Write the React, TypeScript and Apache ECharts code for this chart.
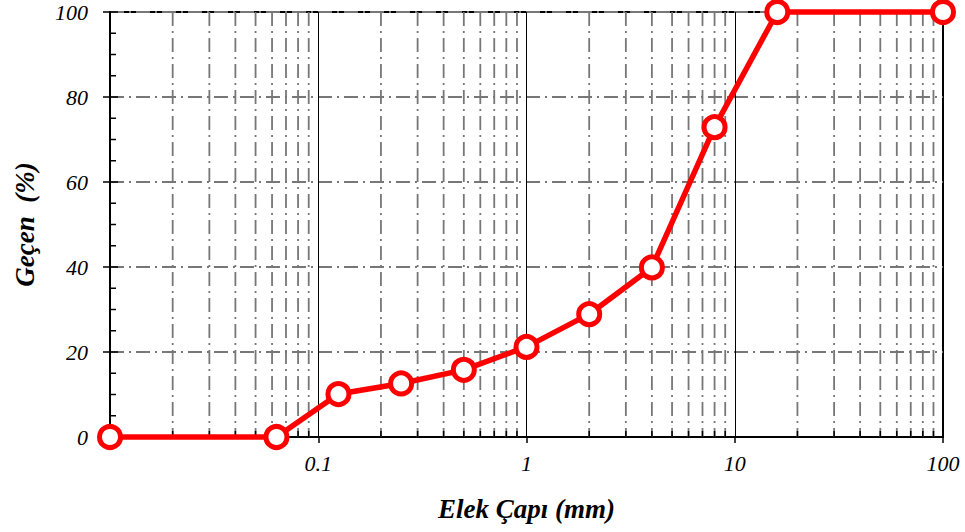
import React, { useEffect, useRef } from "react";
import * as echarts from "echarts";

const sieveSizes = [0.01, 0.063, 0.125, 0.25, 0.5, 1, 2, 4, 8, 16, 100];
const passing = [0, 0, 10.1, 12.6, 15.8, 21.2, 28.9, 39.9, 72.9, 100, 100];
const decades = [0.01, 0.1, 1, 10];
const minorMultipliers = [2, 3, 4, 5, 6, 7, 8, 9];
const yMinorTicks = [5, 10, 15, 25, 30, 35, 45, 50, 55, 65, 70, 75, 85, 90, 95];
const yMajorTicks = [20, 40, 60, 80, 100];
const xTickLabels = [0.1, 1, 10, 100];
const yTickLabels = [0, 20, 40, 60, 80, 100];
const xTitle = "Elek Çapı (mm)";
const yTitle = "Geçen  (%)";

const LABEL_FONT = "italic 22px 'Liberation Serif'";
const TITLE_FONT = "italic bold 27px 'Liberation Serif'";

export default function App() {
  const ref = useRef<HTMLDivElement>(null);
  useEffect(() => {
    if (!ref.current) return;
    const chart = echarts.init(ref.current, null, { renderer: "svg" });
    const minorX: number[] = [];
    decades.forEach((d) =>
      minorMultipliers.forEach((m) => minorX.push(Number((d * m).toPrecision(3))))
    );
    const yTicks = [
      ...yMinorTicks.map((v) => [v, 6]),
      ...yMajorTicks.map((v) => [v, 8]),
    ];
    chart.setOption({
      animation: false,
      backgroundColor: "#fff",
      grid: {
        left: 110,
        right: 22,
        top: 12,
        bottom: 95,
        show: true,
        borderColor: "#000",
        borderWidth: 2,
        backgroundColor: "transparent",
      },
      xAxis: {
        type: "log",
        logBase: 10,
        min: 0.01,
        max: 100,
        axisLine: { show: true, onZero: false, lineStyle: { color: "#000", width: 2 } },
        axisTick: { show: true, inside: false, length: 6, lineStyle: { color: "#000", width: 1.5 } },
        axisLabel: { show: false },
        splitLine: { show: true, lineStyle: { color: "#000", width: 1 } },
      },
      yAxis: {
        type: "value",
        min: 0,
        max: 100,
        interval: 20,
        axisLine: { show: true, onZero: false, lineStyle: { color: "#000", width: 2 } },
        axisTick: { show: true, inside: false, length: 7, lineStyle: { color: "#000", width: 1.5 } },
        axisLabel: { show: false },
        splitLine: {
          show: true,
          lineStyle: { color: "#777", width: 1.8, type: [14, 5, 2, 5] },
        },
      },
      series: [
        {
          type: "custom",
          silent: true,
          z: 1,
          clip: false,
          data: minorX.map((v) => [v]),
          renderItem: (_params: any, api: any) => {
            const v = api.value(0);
            const p0 = api.coord([v, 0]);
            const p1 = api.coord([v, 100]);
            return {
              type: "group",
              children: [
                {
                  type: "line",
                  shape: { x1: p1[0], y1: p1[1], x2: p0[0], y2: p0[1] },
                  style: { stroke: "#777", lineWidth: 1.8, lineDash: [14, 5, 2, 5] },
                },
                {
                  type: "line",
                  shape: { x1: p0[0], y1: p0[1], x2: p0[0], y2: p0[1] - 6 },
                  style: { stroke: "#000", lineWidth: 1.5 },
                },
              ],
            };
          },
        },
        {
          type: "custom",
          silent: true,
          z: 2,
          clip: false,
          data: yTicks,
          renderItem: (_params: any, api: any) => {
            const v = api.value(0);
            const len = api.value(1);
            const p = api.coord([0.01, v]);
            return {
              type: "line",
              shape: { x1: p[0], y1: p[1], x2: p[0] + len, y2: p[1] },
              style: { stroke: "#000", lineWidth: 1.5 },
            };
          },
        },
        {
          type: "line",
          z: 10,
          clip: false,
          data: sieveSizes.map((x, i) => [x, passing[i]]),
          symbol: "circle",
          symbolSize: 21,
          itemStyle: { color: "#fff", borderColor: "#ff0000", borderWidth: 5 },
          lineStyle: { color: "#ff0000", width: 5.5 },
        },
      ],
    });

    const px = (x: number, y: number) =>
      chart.convertToPixel({ xAxisIndex: 0, yAxisIndex: 0 }, [x, y]) as number[];
    const textEl = (
      x: number,
      y: number,
      text: string,
      font: string,
      align: string,
      rotation = 0
    ) => ({
      type: "text",
      x,
      y,
      rotation,
      silent: true,
      style: {
        text,
        font,
        fill: "#000",
        align,
        verticalAlign: "middle",
      },
    });
    const bottomLeft = px(0.01, 0);
    const topRight = px(100, 100);
    const graphics: any[] = [];
    xTickLabels.forEach((v) => {
      const p = px(v, 0);
      graphics.push(textEl(p[0], p[1] + 26, String(v), LABEL_FONT, "center"));
    });
    yTickLabels.forEach((v) => {
      const p = px(0.01, v);
      graphics.push(textEl(p[0] - 22, p[1], String(v), LABEL_FONT, "right"));
    });
    graphics.push(
      textEl((bottomLeft[0] + topRight[0]) / 2, bottomLeft[1] + 72, xTitle, TITLE_FONT, "center")
    );
    graphics.push(
      textEl(bottomLeft[0] - 85, (bottomLeft[1] + topRight[1]) / 2, yTitle, TITLE_FONT, "center", Math.PI / 2)
    );
    chart.setOption({ graphic: graphics });

    return () => chart.dispose();
  }, []);
  return (
    <div
      ref={ref}
      style={{ position: "absolute", left: 0, top: 0, width: 965, height: 532 }}
    />
  );
}
